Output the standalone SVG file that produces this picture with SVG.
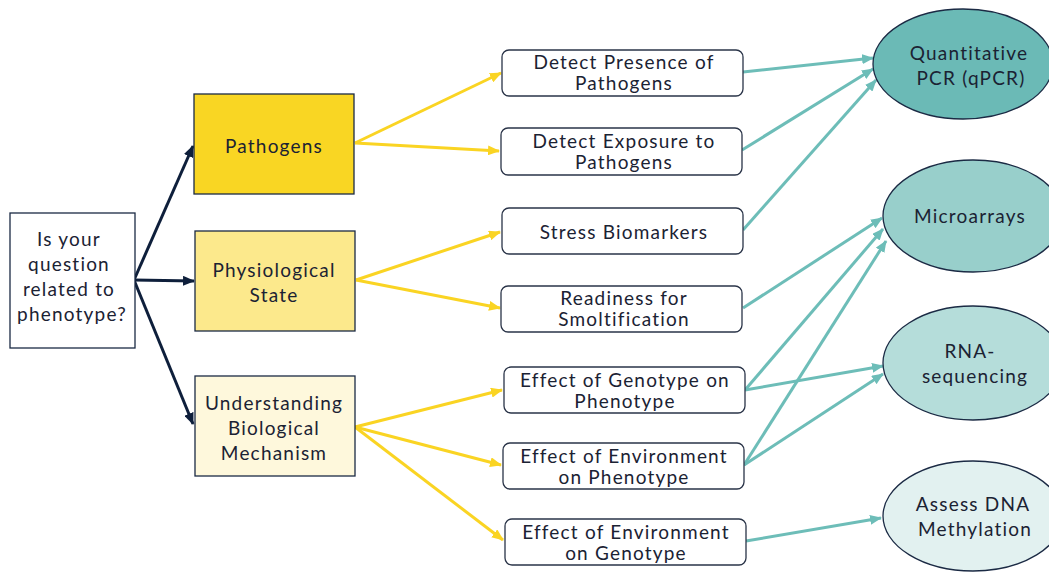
<svg xmlns="http://www.w3.org/2000/svg" width="1049" height="572" viewBox="0 0 1049 572">
<style>
text{font-family:Lato,"Open Sans","Liberation Sans",sans-serif;font-size:19px;letter-spacing:1.2px;fill:#1b2233;text-anchor:middle}
.box{stroke:#1b2a44;stroke-width:1.3}
.mid{fill:#fff;stroke:#2a3448;stroke-width:1.3}
.ell{stroke:#1b2a44;stroke-width:1.3}
.dk{stroke:#0e1f3b;stroke-width:3;fill:none;marker-end:url(#ad)}
.yl{stroke:#fad423;stroke-width:3;fill:none;marker-end:url(#ay)}
.tl{stroke:#6dbdb8;stroke-width:3;fill:none;marker-end:url(#at)}
</style>
<defs>
<marker id="ad" viewBox="0 0 12 10" refX="11" refY="5" markerWidth="12" markerHeight="10" markerUnits="userSpaceOnUse" orient="auto"><path d="M0,0 L12,5 L0,10 Z" fill="#0e1f3b"/></marker>
<marker id="ay" viewBox="0 0 12 10" refX="11" refY="5" markerWidth="12" markerHeight="10" markerUnits="userSpaceOnUse" orient="auto"><path d="M0,0 L12,5 L0,10 Z" fill="#fad423"/></marker>
<marker id="at" viewBox="0 0 12 10" refX="11" refY="5" markerWidth="12" markerHeight="10" markerUnits="userSpaceOnUse" orient="auto"><path d="M0,0 L12,5 L0,10 Z" fill="#6dbdb8"/></marker>
</defs>
<rect width="1049" height="572" fill="#fff"/>
<g id="connectors">
<line class="dk" x1="134" y1="280" x2="193" y2="146"/>
<line class="dk" x1="134" y1="280" x2="194" y2="281"/>
<line class="dk" x1="134" y1="280" x2="193" y2="424"/>
<line class="yl" x1="355" y1="143" x2="501" y2="73"/>
<line class="yl" x1="355" y1="143" x2="499" y2="151"/>
<line class="yl" x1="356" y1="280" x2="500" y2="232"/>
<line class="yl" x1="356" y1="280" x2="500" y2="308"/>
<line class="yl" x1="355" y1="427" x2="502" y2="390"/>
<line class="yl" x1="355" y1="427" x2="501" y2="465"/>
<line class="yl" x1="355" y1="427" x2="503" y2="540"/>
<line class="tl" x1="743" y1="72" x2="873" y2="58"/>
<line class="tl" x1="742" y1="150" x2="873" y2="69"/>
<line class="tl" x1="743" y1="230" x2="876" y2="80"/>
<line class="tl" x1="743" y1="308" x2="882" y2="218"/>
<line class="tl" x1="745" y1="390" x2="883" y2="229"/>
<line class="tl" x1="745" y1="390" x2="883" y2="366"/>
<line class="tl" x1="744" y1="465" x2="886" y2="241"/>
<line class="tl" x1="744" y1="465" x2="883" y2="374"/>
<line class="tl" x1="746" y1="541" x2="881" y2="518"/>
</g>
<g id="question"><rect class="box" x="10" y="213" width="125" height="135" fill="#fff"/>
<text x="69" y="246">Is your</text><text x="69" y="271">question</text><text x="69" y="296">related to</text><text x="72" y="321">phenotype?</text></g>
<g id="pathogens"><rect class="box" x="194" y="94" width="160" height="100" fill="#f9d623"/><text x="274" y="153">Pathogens</text></g>
<g id="physiological"><rect class="box" x="195" y="231" width="160" height="100" fill="#fce98c"/><text x="274" y="277">Physiological</text><text x="274" y="302">State</text></g>
<g id="mechanism"><rect class="box" x="195" y="376" width="160" height="100" fill="#fef8dc"/><text x="274" y="410">Understanding</text><text x="274" y="435">Biological</text><text x="274" y="460">Mechanism</text></g>
<g id="presence"><rect class="mid" x="502" y="50" width="241" height="46" rx="7"/><text x="624" y="69">Detect Presence of</text><text x="624" y="90">Pathogens</text></g>
<g id="exposure"><rect class="mid" x="501" y="128" width="241" height="47" rx="7"/><text x="624" y="148">Detect Exposure to</text><text x="624" y="169">Pathogens</text></g>
<g id="stress"><rect class="mid" x="502" y="208" width="241" height="46" rx="7"/><text x="624" y="239">Stress Biomarkers</text></g>
<g id="readiness"><rect class="mid" x="501" y="286" width="241" height="46" rx="7"/><text x="624" y="305">Readiness for</text><text x="624" y="326">Smoltification</text></g>
<g id="genopheno"><rect class="mid" x="504" y="367" width="241" height="46" rx="7"/><text x="625" y="387">Effect of Genotype on</text><text x="625" y="408">Phenotype</text></g>
<g id="envpheno"><rect class="mid" x="503" y="443" width="241" height="46" rx="7"/><text x="624" y="463">Effect of Environment</text><text x="624" y="484">on Phenotype</text></g>
<g id="envgeno"><rect class="mid" x="505" y="519" width="241" height="46" rx="7"/><text x="626" y="539">Effect of Environment</text><text x="626" y="560">on Genotype</text></g>
<g id="qpcr"><ellipse class="ell" cx="963" cy="64" rx="90" ry="55" fill="#6bbab6"/><text x="969" y="60">Quantitative</text><text x="971" y="85">PCR (qPCR)</text></g>
<g id="microarrays"><ellipse class="ell" cx="973" cy="216" rx="90" ry="56" fill="#98cfcb"/><text x="970" y="223">Microarrays</text></g>
<g id="rnaseq"><ellipse class="ell" cx="973" cy="363" rx="90" ry="57" fill="#b5ddda"/><text x="970" y="358">RNA-</text><text x="975" y="383">sequencing</text></g>
<g id="methylation"><ellipse class="ell" cx="973" cy="516" rx="90" ry="55" fill="#e2f1f0"/><text x="973" y="511">Assess DNA</text><text x="975" y="536">Methylation</text></g>
</svg>
